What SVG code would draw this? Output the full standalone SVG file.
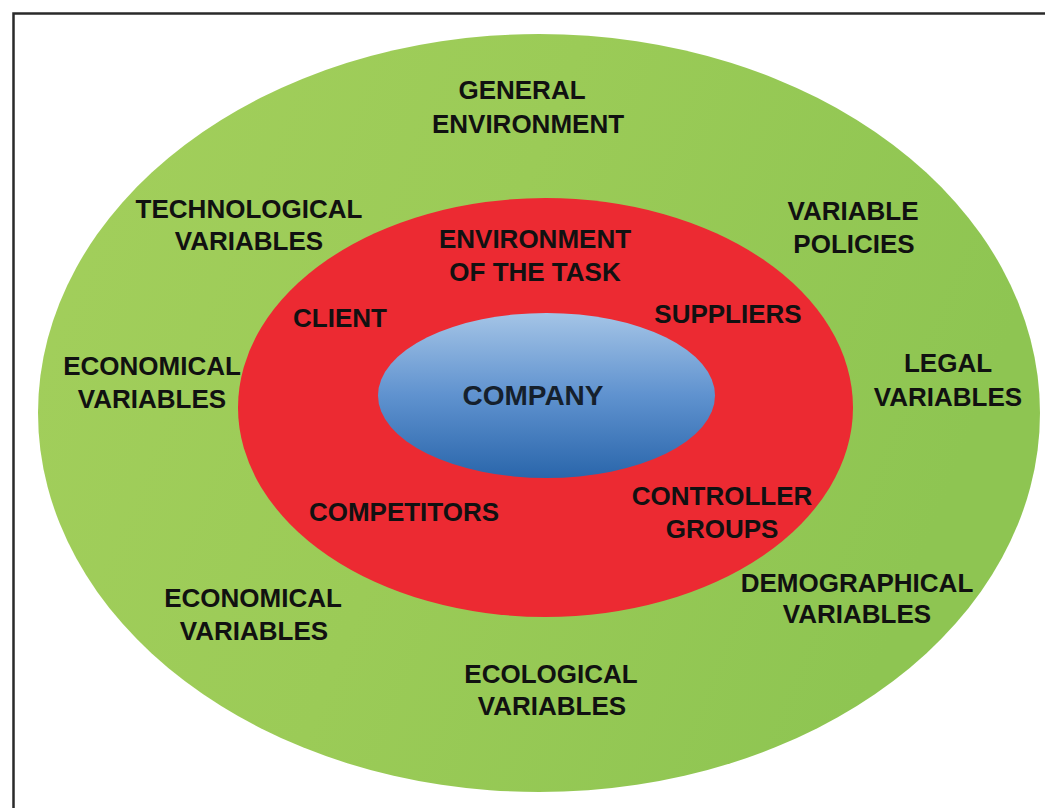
<svg xmlns="http://www.w3.org/2000/svg" width="1045" height="808" viewBox="0 0 1045 808">
  <style>
    .lbl { font-family: "Liberation Sans", Arial, sans-serif; font-weight: bold; font-size: 26px; fill: #111; text-anchor: middle; }
    .core { font-size: 28px; fill: #15202c; }
  </style>
  <defs>
    <linearGradient id="greenFill" x1="0" y1="0" x2="1" y2="0.3">
      <stop offset="0" stop-color="#a3cf5c"/>
      <stop offset="0.5" stop-color="#9bcb57"/>
      <stop offset="1" stop-color="#8ec552"/>
    </linearGradient>
    <linearGradient id="blueFill" x1="0" y1="0" x2="0" y2="1">
      <stop offset="0" stop-color="#a4c4e6"/>
      <stop offset="0.5" stop-color="#5f92cf"/>
      <stop offset="1" stop-color="#2a66ab"/>
    </linearGradient>
  </defs>

  <rect x="0" y="0" width="1045" height="808" fill="#ffffff"/>
  <!-- frame, open to the right and bottom -->
  <rect x="13.5" y="13.5" width="1100" height="900" fill="none" stroke="#2a2a2a" stroke-width="2.5"/>

  <g id="general-environment">
    <ellipse cx="539" cy="413" rx="501" ry="379" fill="url(#greenFill)"/>
    <text class="lbl" x="522" y="99">GENERAL</text>
    <text class="lbl" x="528" y="133">ENVIRONMENT</text>
  </g>

  <g id="technological">
    <text class="lbl" x="249" y="218">TECHNOLOGICAL</text>
    <text class="lbl" x="249" y="250">VARIABLES</text>
  </g>

  <g id="policies">
    <text class="lbl" x="853" y="220">VARIABLE</text>
    <text class="lbl" x="854" y="253">POLICIES</text>
  </g>

  <g id="economical-left">
    <text class="lbl" x="152" y="375">ECONOMICAL</text>
    <text class="lbl" x="152" y="408">VARIABLES</text>
  </g>

  <g id="legal">
    <text class="lbl" x="948" y="372">LEGAL</text>
    <text class="lbl" x="948" y="406">VARIABLES</text>
  </g>

  <g id="economical-bottom">
    <text class="lbl" x="253" y="607">ECONOMICAL</text>
    <text class="lbl" x="254" y="640">VARIABLES</text>
  </g>

  <g id="demographical">
    <text class="lbl" x="857" y="592">DEMOGRAPHICAL</text>
    <text class="lbl" x="857" y="623">VARIABLES</text>
  </g>

  <g id="ecological">
    <text class="lbl" x="551" y="683">ECOLOGICAL</text>
    <text class="lbl" x="552" y="715">VARIABLES</text>
  </g>

  <g id="task-environment">
    <ellipse cx="545.5" cy="407.5" rx="307.5" ry="209.5" fill="#ec2a32"/>
    <text class="lbl" x="535" y="248">ENVIRONMENT</text>
    <text class="lbl" x="535" y="281">OF THE TASK</text>
  </g>

  <g id="client">
    <text class="lbl" x="340" y="327">CLIENT</text>
  </g>

  <g id="suppliers">
    <text class="lbl" x="728" y="323">SUPPLIERS</text>
  </g>

  <g id="competitors">
    <text class="lbl" x="404" y="521">COMPETITORS</text>
  </g>

  <g id="controller-groups">
    <text class="lbl" x="722" y="505">CONTROLLER</text>
    <text class="lbl" x="722" y="538">GROUPS</text>
  </g>

  <g id="company">
    <ellipse cx="546.5" cy="395.5" rx="168.5" ry="82.5" fill="url(#blueFill)"/>
    <text class="lbl core" x="533" y="405">COMPANY</text>
  </g>

  <g id="connectors"/>
</svg>
